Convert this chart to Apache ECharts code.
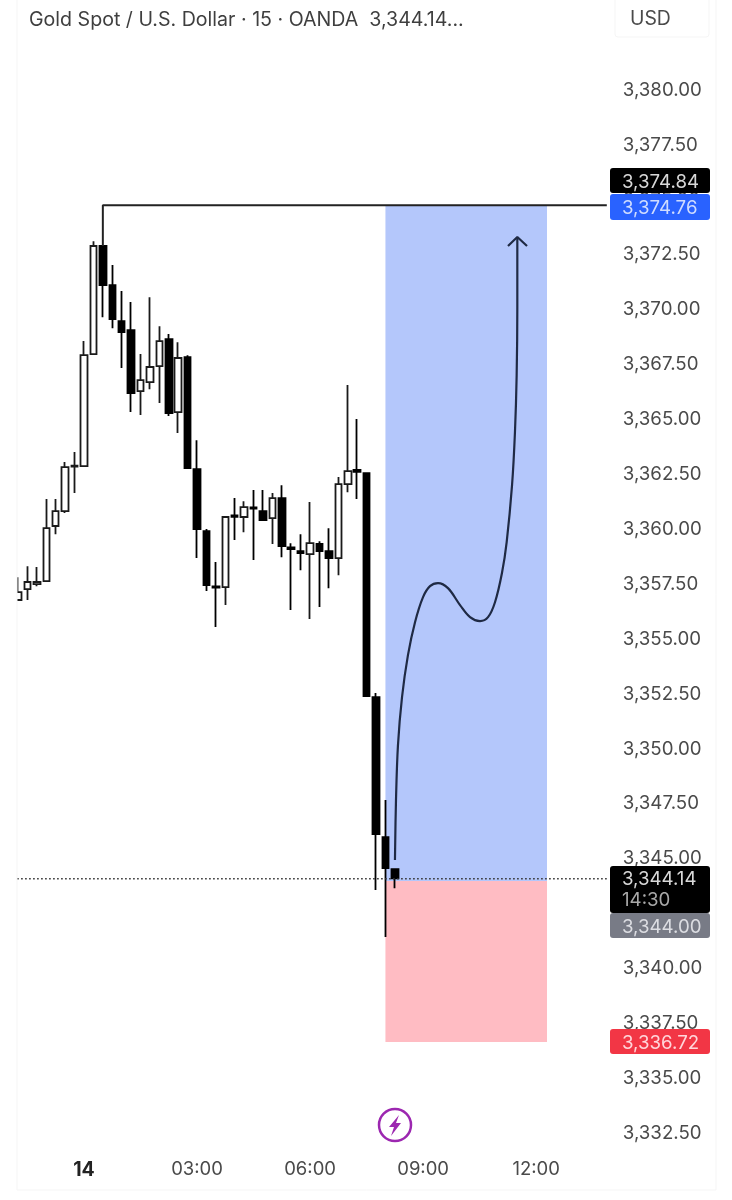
<!DOCTYPE html>
<html>
<head>
<meta charset="utf-8">
<style>
  html, body { margin: 0; padding: 0; background: #fff; }
  #main { width: 732px; height: 1200px; }
</style>
<script src="https://cdn.jsdelivr.net/npm/echarts@6/dist/echarts.min.js"></script>
</head>
<body>
<div id="main"></div>
<script>
// 15 min bars, first one is 22:15 of the previous day
const opens  = [3356.78, 3357.28, 3357.50, 3357.64, 3360.15, 3360.83, 3362.85, 3362.88, 3367.98, 3372.90, 3371.12, 3369.48, 3369.07, 3366.29, 3366.70, 3367.43, 3368.66, 3365.34, 3367.84, 3362.74, 3359.92, 3357.40, 3357.37, 3360.63, 3360.56, 3361.00, 3360.83, 3360.51, 3361.42, 3359.18, 3359.00, 3358.87, 3359.33, 3359.01, 3358.69, 3362.06, 3362.70, 3362.56, 3352.36, 3345.98, 3344.52]
const closes = [3357.14, 3357.60, 3357.60, 3360.05, 3360.83, 3362.83, 3362.90, 3367.93, 3372.90, 3371.12, 3369.57, 3368.98, 3366.20, 3366.79, 3367.39, 3368.57, 3365.29, 3367.80, 3362.79, 3360.01, 3357.46, 3357.34, 3360.56, 3360.57, 3361.01, 3360.94, 3360.42, 3361.42, 3359.24, 3359.10, 3358.92, 3359.37, 3359.01, 3358.69, 3362.06, 3362.65, 3362.62, 3352.40, 3346.12, 3344.57, 3344.10]
const lows   = [3356.78, 3356.78, 3357.41, 3357.64, 3359.78, 3360.74, 3361.65, 3362.88, 3367.98, 3369.66, 3369.16, 3367.34, 3365.34, 3365.20, 3366.38, 3365.75, 3365.16, 3364.38, 3362.79, 3358.69, 3357.19, 3355.55, 3356.55, 3359.51, 3359.87, 3358.60, 3360.42, 3359.33, 3358.73, 3356.32, 3358.14, 3355.91, 3356.46, 3357.32, 3357.91, 3361.69, 3361.38, 3352.40, 3343.57, 3341.43, 3343.66]
const highs  = [3357.82, 3358.32, 3358.28, 3361.38, 3361.38, 3363.06, 3363.52, 3368.57, 3373.12, 3372.95, 3372.03, 3370.85, 3370.35, 3367.98, 3370.57, 3369.25, 3368.89, 3368.52, 3367.93, 3364.06, 3360.01, 3358.51, 3360.60, 3361.42, 3361.28, 3361.79, 3361.79, 3361.65, 3362.01, 3359.37, 3359.78, 3361.24, 3359.46, 3360.05, 3362.38, 3366.57, 3365.02, 3362.60, 3352.54, 3347.67, 3344.52]

// bar number counted from 00:00 (the "14" tick)
const barCount = 63
const firstBar = -7
const timeTicks = { '00:00': '14', '03:00': '03:00', '06:00': '06:00', '09:00': '09:00', '12:00': '12:00' }

// long position drawing, edges as they sit on the picture
const entryPrice = 3343.98
const targetPrice = 3374.76
const stopEdge = 3336.65
const lastPriceLine = 3344.09
const toolStartBar = 32
const toolEndBar = 49.15
const targetLeaderBar = 2

// hand drawn arrow
const arrowBars   = [33.01, 33.12, 33.33, 33.76, 34.39, 35.14, 35.99, 36.73, 37.58, 38.64, 39.92, 40.98, 42.04, 42.89, 43.63, 44.37, 44.87, 45.44, 45.75, 45.93, 46.0, 46.0]
const arrowPrices = [3344.94, 3347.67, 3350.17, 3352.36, 3354.27, 3355.77, 3356.91, 3357.41, 3357.55, 3357.32, 3356.55, 3356.00, 3355.82, 3356.00, 3356.68, 3358.01, 3359.42, 3362.01, 3364.43, 3367.02, 3370.07, 3373.26]
const headBars   = [45.01, 46.0, 47.03]
const headPrices = [3372.90, 3373.31, 3372.90]

const titleText = 'Gold Spot / U.S. Dollar · 15 · OANDA  3,344.14...'

const categories = []
for (let i = 0; i < barCount; i++) {
  const mins = (((firstBar + i) * 15) % 1440 + 1440) % 1440
  categories.push(String(Math.floor(mins / 60)).padStart(2, '0') + ':' + String(mins % 60).padStart(2, '0'))
}

const candleData = opens.map((o, i) => [o, closes[i], lows[i], highs[i]])

const fontName = 'Inter, "Noto Sans", sans-serif'
const labelFont = { fontFamily: fontName, fontSize: 18.7, fill: '#fff' }

function tag(top, height, fill, label, labelFill) {
  return [
    { type: 'rect', z: 100, shape: { x: 610, y: top, width: 100, height: height, r: 3 }, style: { fill: fill } },
    { type: 'text', z: 101, style: { ...labelFont, x: 622, y: top + 14, text: label, fill: labelFill, textVerticalAlign: 'middle' } }
  ]
}

const chartBox = echarts.init(document.getElementById('main'))
const option = {
  animation: false,
  backgroundColor: '#fff',
  title: {
    text: titleText,
    left: 24,
    top: 5,
    textStyle: { fontFamily: fontName, fontSize: 19.6, fontWeight: 'normal', color: '#3f3f3f' }
  },
  grid: { left: 13.35, right: 125.19, top: 35.2, height: 1098 },
  xAxis: [
    {
      type: 'category',
      data: categories,
      boundaryGap: true,
      axisLine: { show: false },
      axisTick: { show: false },
      splitLine: { show: false },
      axisLabel: {
        margin: 27,
        fontFamily: fontName,
        fontSize: 18.5,
        color: '#4a4a4a',
        interval: (i, value) => value in timeTicks,
        formatter: value => (value === '00:00' ? '{day|' + timeTicks[value] + '}' : timeTicks[value]),
        rich: { day: { fontFamily: fontName, fontSize: 19.5, fontWeight: 'bold', color: '#222' } }
      }
    },
    // bar numbers, for the drawings that sit between bars
    { type: 'value', min: firstBar - 0.5, max: firstBar + barCount - 0.5, show: false }
  ],
  yAxis: {
    type: 'value',
    position: 'right',
    min: 3332.5,
    max: 3382.5,
    interval: 2.5,
    splitLine: { show: false },
    axisLine: { show: false },
    axisTick: { show: false },
    axisLabel: {
      margin: 16,
      showMaxLabel: false,
      padding: [6, 0, 0, 0],
      fontFamily: fontName,
      fontSize: 18.7,
      color: '#4a4a4a',
      formatter: v => v.toLocaleString('en-US', { minimumFractionDigits: 2, maximumFractionDigits: 2 })
    }
  },
  series: [
    {
      type: 'custom',
      xAxisIndex: 1,
      z: 1,
      silent: true,
      clip: false,
      data: [
        [toolStartBar, toolEndBar, targetPrice, entryPrice],
        [toolStartBar, toolEndBar, entryPrice, stopEdge]
      ],
      renderItem: (params, api) => {
        const a = api.coord([api.value(0), api.value(2)])
        const b = api.coord([api.value(1), api.value(3)])
        return {
          type: 'rect',
          shape: { x: a[0], y: a[1], width: b[0] - a[0], height: b[1] - a[1] },
          style: { fill: params.dataIndex === 0 ? '#b4c7fb' : '#ffbcc3' }
        }
      }
    },
    {
      type: 'candlestick',
      z: 2,
      barWidth: 7,
      clip: false,
      data: candleData,
      itemStyle: { color: '#fff', color0: '#000', borderColor: '#1a1a1a', borderColor0: '#000', borderWidth: 1.8 }
    },
    {
      type: 'line',
      xAxisIndex: 1,
      z: 3,
      symbol: 'none',
      silent: true,
      data: [[targetLeaderBar, opens[9]], [targetLeaderBar, targetPrice], [firstBar + barCount - 0.5, targetPrice]],
      lineStyle: { color: '#222', width: 2 }
    },
    {
      type: 'line',
      xAxisIndex: 1,
      z: 3,
      symbol: 'none',
      silent: true,
      data: [[firstBar - 0.1, lastPriceLine], [firstBar + barCount - 0.5, lastPriceLine]],
      lineStyle: { color: '#333', width: 1.6, type: [1.6, 2.4] }
    },
    {
      type: 'line',
      xAxisIndex: 1,
      z: 4,
      symbol: 'none',
      silent: true,
      smooth: 0.35,
      data: arrowBars.map((x, i) => [x, arrowPrices[i]]),
      lineStyle: { color: '#1f2a44', width: 2.2 }
    },
    {
      type: 'line',
      xAxisIndex: 1,
      z: 4,
      symbol: 'none',
      silent: true,
      data: headBars.map((x, i) => [x, headPrices[i]]),
      lineStyle: { color: '#1f2a44', width: 2.2 }
    }
  ],
  graphic: [
    // cut the first bar at the pane edge
    { type: 'rect', z: 50, shape: { x: 0, y: 40, width: 17, height: 1100 }, style: { fill: '#fff' } },
    // pane frame and currency box
    { type: 'rect', z: 60, shape: { x: 17, y: -5, width: 699, height: 1195 }, style: { fill: 'none', stroke: '#f5f5f5', lineWidth: 1 } },
    { type: 'rect', z: 60, shape: { x: 615, y: -3, width: 94, height: 40, r: 3 }, style: { fill: 'none', stroke: '#f5f5f5', lineWidth: 1 } },
    { type: 'text', z: 61, style: { ...labelFont, fontSize: 19.4, x: 630, y: 19.5, text: 'USD', fill: '#4a4a4a', textVerticalAlign: 'middle' } },
    // price tags
    ...tag(168, 25, '#000000', '3,374.84', '#d8d8d8'),
    ...tag(194, 26, '#2962ff', '3,374.76', '#cfdcff'),
    { type: 'rect', z: 100, shape: { x: 610, y: 866, width: 100, height: 47, r: 3 }, style: { fill: '#000000' } },
    { type: 'text', z: 101, style: { ...labelFont, x: 622, y: 879.5, text: '3,344.14', fill: '#d8d8d8', textVerticalAlign: 'middle' } },
    { type: 'text', z: 101, style: { ...labelFont, x: 622, y: 900.5, text: '14:30', fill: '#a8a8a8', textVerticalAlign: 'middle' } },
    ...tag(913, 25, '#787b86', '3,344.00', '#dcdde2'),
    ...tag(1029, 25, '#f23645', '3,336.72', '#ffd6da'),
    // lightning badge
    { type: 'ellipse', z: 70, shape: { cx: 395, cy: 1125, rx: 16, ry: 16 }, style: { fill: '#fff', stroke: '#9c27b0', lineWidth: 2.5 } },
    { type: 'polygon', z: 71, shape: { points: [[399, 1115], [389, 1127], [394, 1127], [391, 1136], [401, 1123], [396, 1123]] }, style: { fill: '#9c27b0' } }
  ]
}
chartBox.setOption(option)
</script>
</body>
</html>
